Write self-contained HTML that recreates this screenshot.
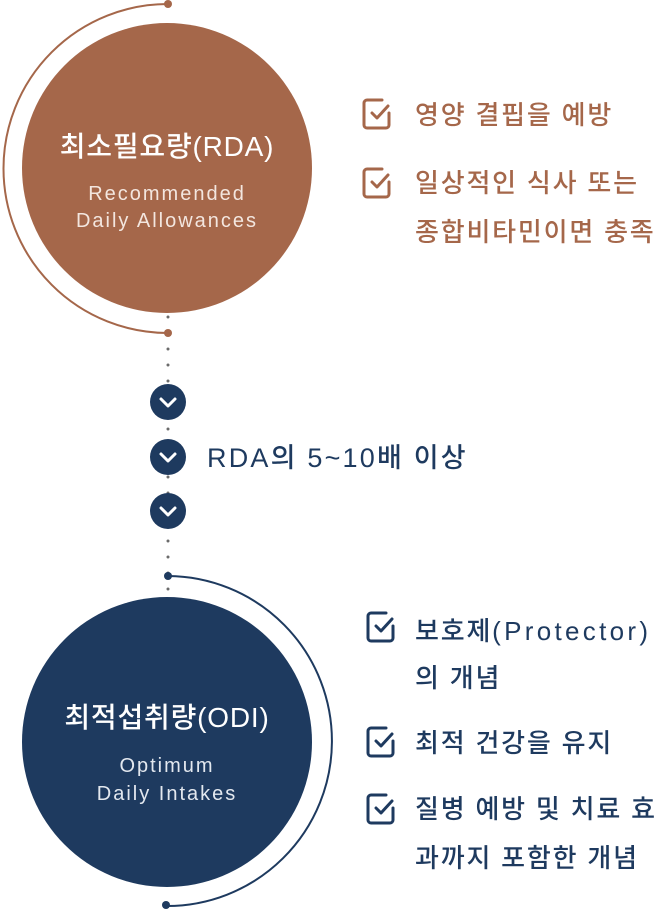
<!DOCTYPE html>
<html><head><meta charset="utf-8"><style>
body{margin:0;width:664px;height:910px;background:#fff;overflow:hidden}
svg text{font-family:"Liberation Sans","Noto Sans CJK KR",sans-serif}
</style></head><body>
<svg width="664" height="910" viewBox="0 0 664 910" xmlns="http://www.w3.org/2000/svg">
<line x1="168" y1="317" x2="168" y2="592" stroke="#6b6b6b" stroke-width="3" stroke-linecap="round" stroke-dasharray="0 16"/>
<path d="M168 4 A164 164 0 0 0 168 333" fill="none" stroke="#a5674a" stroke-width="2"/>
<circle cx="168" cy="4" r="4" fill="#a5674a"/>
<circle cx="168" cy="333" r="4" fill="#a5674a"/>
<circle cx="167" cy="168" r="145" fill="#a5674a"/>
<text x="167" y="156" text-anchor="middle" font-size="28" font-weight="500" letter-spacing="0.8" fill="#fff">최소필요량(RDA)</text>
<text x="167" y="200" text-anchor="middle" font-size="20" letter-spacing="2" fill="#f3e6df">Recommended</text>
<text x="167" y="227" text-anchor="middle" font-size="20" letter-spacing="2" fill="#f3e6df">Daily Allowances</text>
<g fill="#1e3a5f" stroke="#fff" stroke-width="3" stroke-linecap="round" stroke-linejoin="round">
<circle cx="168" cy="402" r="18" stroke="none"/><path d="M161 399 L168 406 L175 399" fill="none"/>
<circle cx="168" cy="457" r="18" stroke="none"/><path d="M161 454 L168 461 L175 454" fill="none"/>
<circle cx="168" cy="511" r="18" stroke="none"/><path d="M161 508 L168 515 L175 508" fill="none"/>
</g>
<text x="207" y="467" font-size="27" font-weight="500" letter-spacing="2.2" fill="#1e3a5f">RDA의 5~10배 이상</text>
<path d="M168 576 A165 165 0 0 1 166 906" fill="none" stroke="#1e3a5f" stroke-width="2"/>
<circle cx="168" cy="576" r="4" fill="#1e3a5f"/>
<circle cx="166" cy="905" r="4" fill="#1e3a5f"/>
<circle cx="167" cy="742" r="145" fill="#1e3a5f"/>
<text x="167" y="727" text-anchor="middle" font-size="28" font-weight="500" letter-spacing="0.8" fill="#fff">최적섭취량(ODI)</text>
<text x="167" y="772" text-anchor="middle" font-size="20" letter-spacing="2" fill="#e3e8ef">Optimum</text>
<text x="167" y="800" text-anchor="middle" font-size="20" letter-spacing="2" fill="#e3e8ef">Daily Intakes</text>
<defs>
<g id="chk"><path d="M26 14 V26 a3 3 0 0 1 -3 3 H4 a3 3 0 0 1 -3 -3 V4 a3 3 0 0 1 3 -3 H19" fill="none" stroke-width="3" stroke-linecap="round"/><path d="M9 14 L14 19 L25 7" fill="none" stroke-width="3" stroke-linecap="round" stroke-linejoin="round"/></g>
</defs>
<g stroke="#a5674a"><use href="#chk" x="363" y="99"/><use href="#chk" x="363" y="168"/></g>
<g font-size="26" font-weight="500" letter-spacing="1.8" fill="#a5674a">
<text x="415" y="124">영양 결핍을 예방</text>
<text x="415" y="192">일상적인 식사 또는</text>
<text x="415" y="241">종합비타민이면 충족</text>
</g>
<g stroke="#1e3a5f"><use href="#chk" x="367" y="612"/><use href="#chk" x="367" y="727"/><use href="#chk" x="367" y="794"/></g>
<g font-size="26" font-weight="500" letter-spacing="1.8" fill="#1e3a5f">
<text x="415" y="640">보호제<tspan letter-spacing="3.3">(Protector)</tspan></text>
<text x="415" y="687">의 개념</text>
<text x="415" y="752">최적 건강을 유지</text>
<text x="415" y="818">질병 예방 및 치료 효</text>
<text x="415" y="867">과까지 포함한 개념</text>
</g>
</svg>
</body></html>
